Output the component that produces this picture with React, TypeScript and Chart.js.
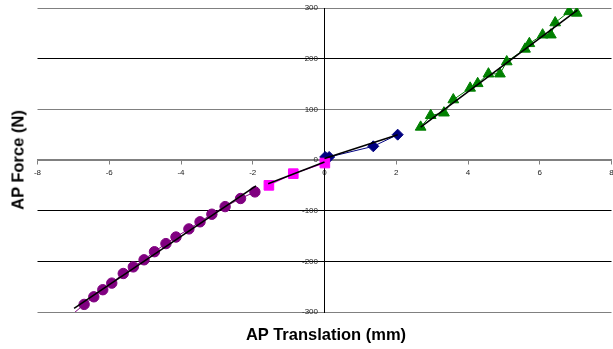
import React, { useEffect, useRef } from "react";
import { Chart, registerables } from "chart.js";
Chart.register(...registerables);

const purpleX = [-7.2, -6.7, -6.43, -6.18, -5.93, -5.61, -5.33, -5.03, -4.74, -4.42, -4.14, -3.78, -3.47, -3.14, -2.77, -2.34, -1.94];
const purpleY = [-315, -285, -270, -256, -243, -224, -211, -197, -181, -165, -152, -136, -122, -107, -92, -76, -63];

const magentaX = [-1.55, -0.87, 0.01];
const magentaY = [-50, -27, -6];

const navyX = [0.02, 0.13, 1.36, 2.04];
const navyY = [6, 6, 27, 50];

const greenX = [2.68, 2.96, 3.33, 3.59, 4.06, 4.27, 4.57, 4.89, 5.08, 5.59, 5.71, 6.08, 6.31, 6.43, 6.82, 7.03];
const greenY = [65, 88, 93, 119, 142, 151, 170, 170, 194, 219, 230, 247, 247, 271, 293, 290];

const purpleTrendX = [-6.98, -1.91];
const purpleTrendY = [-293, -51];
const magentaTrendX = [-1.57, 0.0];
const magentaTrendY = [-47, -4];
const navyTrendX = [0.0, 2.04];
const navyTrendY = [3, 50];
const greenTrendX = [2.68, 7.05];
const greenTrendY = [65, 296];

const xTicks = [-8, -6, -4, -2, 0, 2, 4, 6, 8];
const yTicks = [-300, -200, -100, 0, 100, 200, 300];

const pts = (xs: number[], ys: number[]) => xs.map((x, i) => ({ x, y: ys[i] }));

// y labels of an axis crossing at x = 0 are drawn flush with the axis; move them left of the tick marks
const shiftYLabels = {
  id: "shiftYLabels",
  beforeDraw(chart: any) {
    const s = chart.scales.y;
    const items = s.getLabelItems(chart.chartArea);
    if (!items._shifted) {
      items.forEach((it: any) => {
        it.options.translation[0] -= 6.5;
      });
      items._shifted = true;
    }
  },
};

export default function App() {
  const ref = useRef<HTMLCanvasElement>(null);
  useEffect(() => {
    const font = { family: '"Liberation Sans", Arial, sans-serif', size: 8 };
    const series = (xs: number[], ys: number[], color: string, style: string, radius: number) => ({
      data: pts(xs, ys),
      showLine: true,
      borderColor: color,
      backgroundColor: color,
      borderWidth: 1,
      pointStyle: style,
      pointRadius: radius,
      pointBorderWidth: 1,
      pointBorderColor: color,
      pointBackgroundColor: color,
      order: 2,
    });
    const trend = (xs: number[], ys: number[]) => ({
      data: pts(xs, ys),
      showLine: true,
      borderColor: "#000",
      borderWidth: 1.6,
      pointRadius: 0,
      order: 1,
    });
    const chart = new Chart(ref.current as HTMLCanvasElement, {
      type: "scatter",
      data: {
        datasets: [
          series(purpleX, purpleY, "#800080", "circle", 5.2),
          series(magentaX, magentaY, "#FF00FF", "rect", 6.8),
          series(navyX, navyY, "#000080", "rectRot", 5.5),
          series(greenX, greenY, "#008000", "triangle", 6.2),
          trend(purpleTrendX, purpleTrendY),
          trend(magentaTrendX, magentaTrendY),
          trend(navyTrendX, navyTrendY),
          trend(greenTrendX, greenTrendY),
        ] as any,
      },
      plugins: [shiftYLabels],
      options: {
        animation: false,
        responsive: false,
        devicePixelRatio: 1,
        events: [],
        layout: { autoPadding: false, padding: { left: 37.5, right: 1.5, top: 8, bottom: 37 } },
        plugins: { legend: { display: false }, tooltip: { enabled: false } },
        scales: {
          x: {
            type: "linear",
            position: { y: 0 } as any,
            min: -8,
            max: 8,
            afterBuildTicks: (s: any) => { s.ticks = xTicks.map((v) => ({ value: v })); },
            afterFit: (s: any) => { s.paddingLeft = 0; s.paddingRight = 0; },
            ticks: { font, color: "#222", padding: 4, maxRotation: 0, autoSkip: false },
            grid: { drawOnChartArea: false, drawTicks: true, tickLength: 4, color: "#808080" },
            border: { color: "#808080", width: 1.5 },
          },
          y: {
            type: "linear",
            position: { x: 0 } as any,
            min: -300,
            max: 300,
            afterBuildTicks: (s: any) => { s.ticks = yTicks.map((v) => ({ value: v })); },
            afterFit: (s: any) => { s.paddingTop = 0; s.paddingBottom = 0; },
            ticks: { font, color: "#222", padding: 1 },
            grid: {
              tickLength: 4,
              color: (c: any) => ([300, 100, 0, -300].includes(c.tick?.value) ? "#808080" : "#000"),
            },
            border: { color: "#000", width: 1 },
          },
        },
      } as any,
    });
    return () => chart.destroy();
  }, []);

  const titleFont = '"Liberation Sans", Arial, sans-serif';
  return (
    <div style={{ position: "fixed", left: 0, top: 0, width: 613, height: 349, background: "#fff" }}>
      <canvas ref={ref} width={613} height={349} style={{ position: "absolute", left: 0, top: 0, width: 613, height: 349 }} />
      <div style={{ position: "absolute", left: 326, top: 334, transform: "translate(-50%, -50%)", font: `bold 16.5px ${titleFont}`, whiteSpace: "nowrap", color: "#000" }}>
        AP Translation (mm)
      </div>
      <div style={{ position: "absolute", left: 18, top: 160, transform: "translate(-50%, -50%) rotate(-90deg)", font: `bold 16.5px ${titleFont}`, whiteSpace: "nowrap", color: "#000" }}>
        AP Force (N)
      </div>
    </div>
  );
}
